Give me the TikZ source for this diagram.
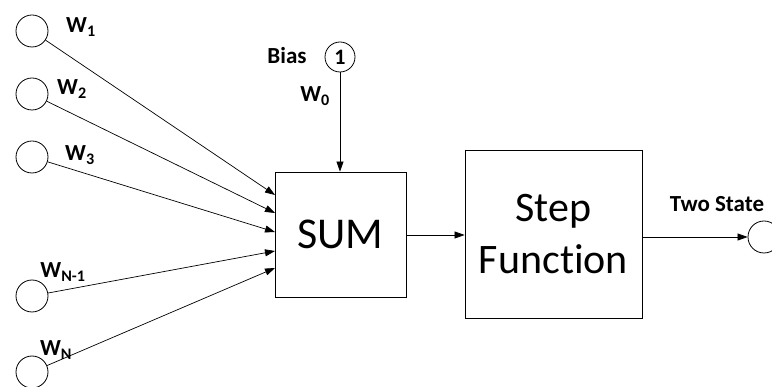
\documentclass[tikz,border=0pt]{standalone}
\usepackage{fontspec}
\setmainfont{Carlito}[Ligatures={NoCommon,TeX}]
\usetikzlibrary{arrows.meta}
\begin{document}
\begin{tikzpicture}[x=1pt,y=-1pt,
  inp/.style={circle,draw,line width=0.8pt,minimum size=32pt,inner sep=0pt},
  blk/.style={draw,line width=0.8pt,inner sep=0pt},
  conn/.style={line width=0.7pt,-{Triangle[length=10pt,width=7pt]}},
  wlab/.style={font=\fontsize{23}{26}\selectfont\bfseries,inner sep=0pt}]
\useasboundingbox (0,0) rectangle (772,387);
% inputs
\node[inp] (i1) at (32,31) {};
\node[inp] (i2) at (32,94) {};
\node[inp] (i3) at (32,157) {};
\node[inp] (i4) at (32,296) {};
\node[inp] (i5) at (32,372) {};
% labels
\node[wlab] (l1) at (81,27) {W\textsubscript{1}};
\node[wlab] (l2) at (72,89) {W\textsubscript{2}};
\node[wlab] (l3) at (80,155) {W\textsubscript{3}};
\node[wlab] (l4) at (63,272) {W\textsubscript{N-1}};
\node[wlab] (l5) at (56,350) {W\textsubscript{N}};
% sum box
\node[blk,minimum width=131pt,minimum height=125pt,font=\fontsize{44}{48}\selectfont] (sum) at (340.5,234.5) {SUM};
\coordinate (t1) at (275,195);
\coordinate (t2) at (275,213);
\coordinate (t3) at (275,232);
\coordinate (t4) at (275,251);
\coordinate (t5) at (275,268);
\draw[conn] (i1) -- (t1);
\draw[conn] (i2) -- (t2);
\draw[conn] (i3) -- (t3);
\draw[conn] (i4) -- (t4);
\draw[conn] (i5) -- (t5);
% bias
\node[circle,draw,line width=0.8pt,minimum size=30pt,inner sep=0pt,font=\fontsize{22}{24}\selectfont\bfseries] (b) at (340,57) {1};
\node[wlab] (bl) at (287,56) {Bias};
\node[wlab] (w0) at (315,96) {W\textsubscript{0}};
\draw[conn] (b) -- (sum.north -| b);
% step function
\node[blk,minimum width=177pt,minimum height=168pt,align=center,font=\fontsize{42}{52}\selectfont] (step) at (553.5,234) {Step\\Function};
\draw[conn] (sum.east |- 0,235) coordinate (s0) -- (step.west |- s0);
% output
\node[inp] (o) at (764,237) {};
\node[wlab] (ts) at (717,204) {Two State};
\draw[conn] (step.east |- o) -- (o);
\end{tikzpicture}
\end{document}
